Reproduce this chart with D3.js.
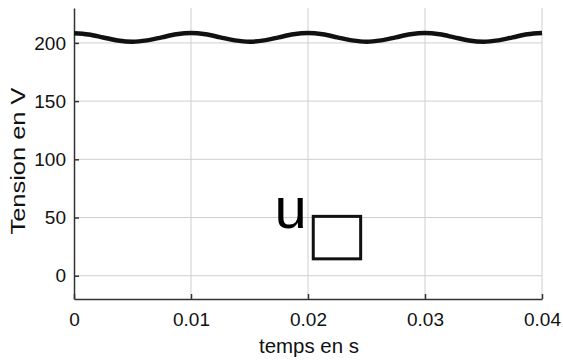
<!DOCTYPE html>
<html>
<head>
<meta charset="utf-8">
<script src="https://cdn.jsdelivr.net/npm/d3@7"></script>
<style>
  body { margin: 0; background: #fff; }
  svg { display: block; font-family: "Liberation Sans", Arial, sans-serif; }
  .grid line { stroke: #cfcfcf; stroke-width: 1; }
  .axis path, .axis line { stroke: #333; stroke-width: 1.5; }
</style>
</head>
<body>
<svg id="chart" width="563" height="363"></svg>
<script>
// time samples (s) and voltage (V)
var times = [0, 0.00125, 0.0025, 0.00375, 0.005, 0.00625, 0.0075, 0.00875,
             0.01, 0.01125, 0.0125, 0.01375, 0.015, 0.01625, 0.0175, 0.01875,
             0.02, 0.02125, 0.0225, 0.02375, 0.025, 0.02625, 0.0275, 0.02875,
             0.03, 0.03125, 0.0325, 0.03375, 0.035, 0.03625, 0.0375, 0.03875, 0.04];
var volts = [208.4, 207.3, 204.7, 202.1, 201.0, 202.2, 204.8, 207.4,
             208.5, 207.4, 204.8, 202.2, 201.0, 202.2, 204.8, 207.4,
             208.5, 207.4, 204.8, 202.2, 201.0, 202.2, 204.8, 207.4,
             208.5, 207.4, 204.8, 202.1, 201.0, 202.2, 204.8, 207.4, 208.5];
var xTicks = [0, 0.01, 0.02, 0.03, 0.04];
var yTicks = [0, 50, 100, 150, 200];
var xLabel = "temps en s";
var yLabel = "Tension en V";
// annotation: letter "u" and the empty box next to it (data coords)
var noteText = "u";
var notePos = [0.0173, 41];
var boxCorners = [[0.02045, 51], [0.0245, 14.5]];

var svg = d3.select("#chart");
var mLeft = 74, mRight = 542, mTop = 8, mBottom = 299;

var xScale = d3.scaleLinear().domain([0, 0.04]).range([mLeft, mRight]);
var yScale = d3.scaleLinear().domain([-20, 230]).range([mBottom, mTop]);

// grid
svg.append("g").attr("class", "grid")
  .selectAll("line.v").data(xTicks.slice(1)).enter().append("line")
  .attr("x1", d => xScale(d)).attr("x2", d => xScale(d))
  .attr("y1", mTop).attr("y2", mBottom);
svg.append("g").attr("class", "grid")
  .selectAll("line.h").data(yTicks).enter().append("line")
  .attr("x1", mLeft).attr("x2", mRight)
  .attr("y1", d => yScale(d)).attr("y2", d => yScale(d));

// axes, ticks pointing inward
var gx = svg.append("g").attr("class", "axis")
  .attr("transform", "translate(0," + mBottom + ")")
  .call(d3.axisBottom(xScale).tickValues(xTicks).tickFormat(d3.format("")).tickSizeInner(-5).tickSizeOuter(0).tickPadding(14));
var gy = svg.append("g").attr("class", "axis")
  .attr("transform", "translate(" + mLeft + ",0)")
  .call(d3.axisLeft(yScale).tickValues(yTicks).tickSizeInner(-5).tickSizeOuter(0).tickPadding(8));
[gx, gy].forEach(g => g.attr("font-size", 19)
  .attr("font-family", "'Liberation Sans', Arial, sans-serif")
  .selectAll("text").attr("fill", "#111"));

// curve
var line = d3.line()
  .x((d, i) => xScale(times[i]))
  .y(d => yScale(d))
  .curve(d3.curveMonotoneX);
svg.append("path")
  .datum(volts)
  .attr("d", line)
  .attr("fill", "none")
  .attr("stroke", "#111")
  .attr("stroke-width", 4.5);

// axis titles
svg.append("text")
  .attr("x", (mLeft + mRight) / 2 + 1).attr("y", 353)
  .attr("text-anchor", "middle")
  .attr("font-size", 20)
  .attr("fill", "#111")
  .attr("textLength", 100).attr("lengthAdjust", "spacingAndGlyphs")
  .text(xLabel);
svg.append("text")
  .attr("transform", "translate(25,161) rotate(-90)")
  .attr("text-anchor", "middle")
  .attr("font-size", 21)
  .attr("fill", "#111")
  .attr("textLength", 147).attr("lengthAdjust", "spacingAndGlyphs")
  .text(yLabel);

// annotation
svg.append("text")
  .attr("x", xScale(notePos[0]) - 2).attr("y", yScale(notePos[1]))
  .attr("font-size", 58)
  .text(noteText);
svg.append("rect")
  .attr("x", xScale(boxCorners[0][0])).attr("y", yScale(boxCorners[0][1]))
  .attr("width", xScale(boxCorners[1][0]) - xScale(boxCorners[0][0]))
  .attr("height", yScale(boxCorners[1][1]) - yScale(boxCorners[0][1]))
  .attr("fill", "none").attr("stroke", "#111").attr("stroke-width", 3);
</script>
</body>
</html>
